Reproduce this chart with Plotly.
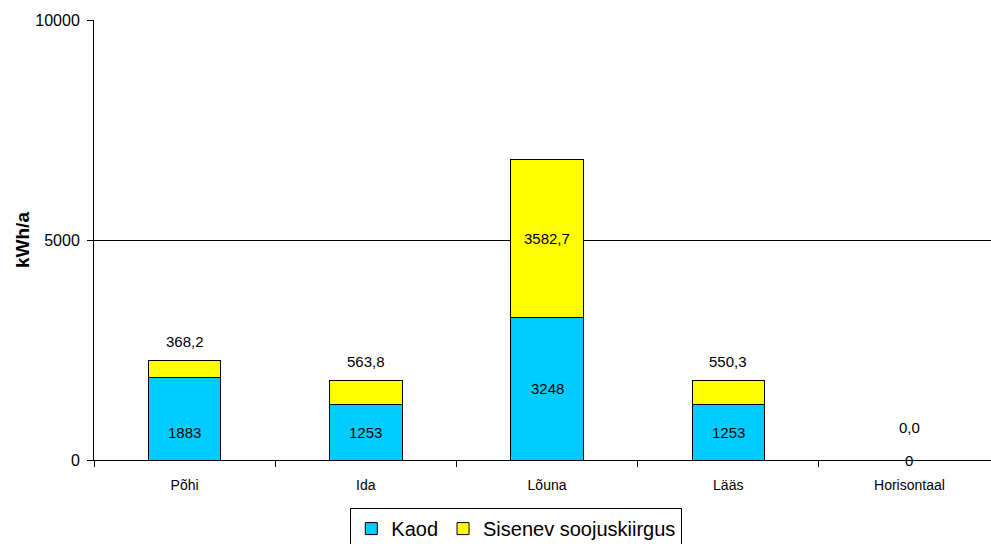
import plotly.graph_objects as go

categories = ["Põhi", "Ida", "Lõuna", "Lääs", "Horisontaal"]
kaod = [1883, 1253, 3248, 1253, 0]
sisenev = [368.2, 563.8, 3582.7, 550.3, 0.0]
y_ticks = [0, 5000, 10000]

BLUE = "#00CCFF"
YELLOW = "#FFFF00"
FONT = "Liberation Sans, Arial, sans-serif"
PLOT_L, PLOT_W = 94, 897

fig = go.Figure()
fig.add_trace(go.Bar(x=categories, y=kaod, name="Kaod", marker=dict(color=BLUE, line=dict(color="#000", width=1)), width=0.4))
fig.add_trace(go.Bar(x=categories, y=sisenev, name="Sisenev soojuskiirgus", marker=dict(color=YELLOW, line=dict(color="#000", width=1)), width=0.4))

lab_font = dict(size=15, color="#000", family=FONT)
annotations = []
for c, k, s in zip(categories, kaod, sisenev):
    # Excel keeps the Kaod label from rising too high in short stacks
    ky = min(k / 2, 1253 / 2) if k + s < 3000 else k / 2
    annotations.append(dict(x=c, y=ky, text=str(k), showarrow=False, font=lab_font))
    txt = f"{s:.1f}".replace(".", ",")
    if s > 1000:
        annotations.append(dict(x=c, y=k + s / 2, text=txt, showarrow=False, font=lab_font))
    else:
        shift = 33 if k + s == 0 else 19
        annotations.append(dict(x=c, y=k + s, text=txt, showarrow=False, yshift=shift, font=lab_font))

annotations.append(dict(xref="paper", yref="paper", x=(22 - PLOT_L) / PLOT_W, y=0.5, text="<b>kWh/a</b>", textangle=-90,
                        showarrow=False, xanchor="center", yanchor="middle", font=dict(size=19, family=FONT, color="#000")))

fig.update_layout(
    barmode="stack",
    width=991, height=544,
    margin=dict(l=PLOT_L, r=0, t=20, b=84),
    paper_bgcolor="white", plot_bgcolor="white",
    font=dict(family=FONT, size=14, color="#000"),
    showlegend=True,
    legend=dict(orientation="h", xref="container", yref="container", x=0.521, xanchor="center", y=0.066, yanchor="top",
                bordercolor="#000", borderwidth=1, font=dict(size=20, family=FONT), traceorder="normal",
                itemwidth=30, tracegroupgap=0),
    annotations=annotations,
)
fig.update_xaxes(range=[-0.5, 4.45], showline=True, linecolor="#000", linewidth=1, ticks="outside", tickson="boundaries",
                 ticklen=6, tickcolor="#000", showgrid=False, tickfont=dict(size=14), ticklabelstandoff=12)
fig.update_yaxes(range=[0, 10000], tickvals=y_ticks, ticktext=[str(v) for v in y_ticks], showline=True, linecolor="#000",
                 linewidth=1, ticks="outside", ticklen=6, tickcolor="#000", showgrid=True, gridcolor="#000", gridwidth=1,
                 zeroline=False, tickfont=dict(size=16), ticklabelstandoff=4)

fig.write_html("out.html")
